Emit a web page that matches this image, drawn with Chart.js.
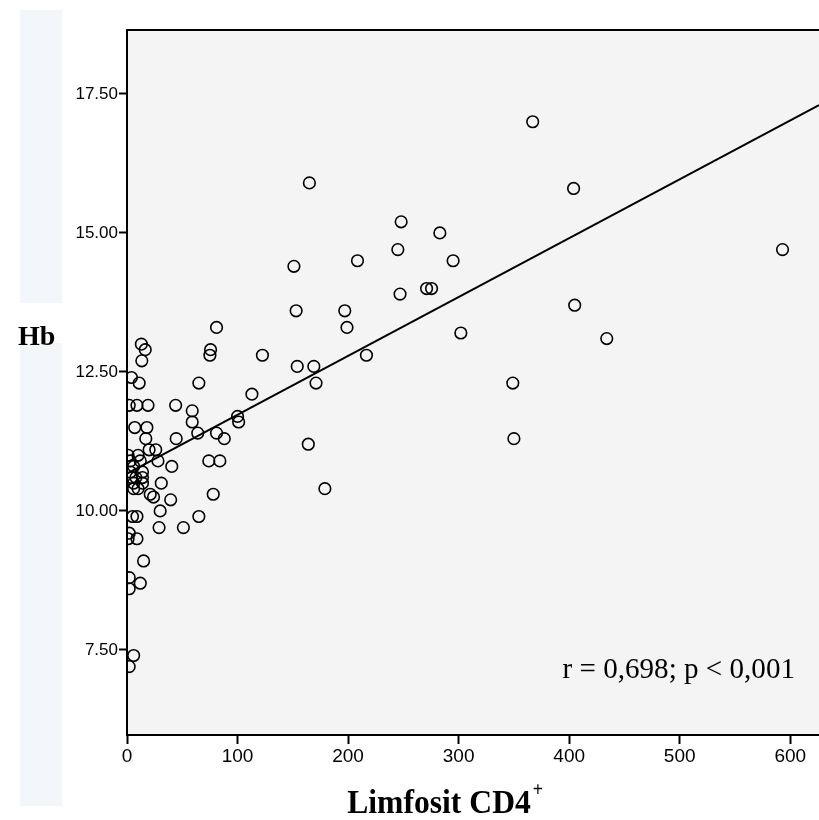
<!DOCTYPE html>
<html>
<head>
<meta charset="utf-8">
<script src="https://cdn.jsdelivr.net/npm/chart.js@4.4.1/dist/chart.umd.min.js"></script>
<style>
  html, body { margin: 0; padding: 0; background: #fff; }
  #wrap { width: 819px; height: 820px; }
</style>
</head>
<body>
<div id="wrap"><canvas id="grafico1" width="819" height="820"></canvas></div>
<script>
// Limfosit CD4+ (x) dan Hb (y)
const cd4 = [
  367, 165, 404, 248, 283, 245, 593, 151, 208.5, 295,
  247, 271, 275.5, 405, 153, 197, 199, 81, 302, 434,
  122.5, 216.6, 154, 169, 171, 349, 350, 164, 179, 75.6,
  75, 65, 113, 59, 59, 100, 101, 64, 81, 88,
  74, 84, 78, 65, 44, 44.5,
  13, 16.5, 13.4, 4, 11, 2, 9, 19, 7, 18,
  17, 20, 26, 28, 40.5,
  1, 10, 3, 12, 6, 14, 3, 8, 14, 4, 6, 14, 10, 6,
  31, 21, 24, 39.5, 30, 5, 9, 29, 51, 2,
  9, 1, 15, 2, 2, 12, 6, 2
];
const hb = [
  17.0, 15.9, 15.8, 15.2, 15.0, 14.7, 14.7, 14.4, 14.5, 14.5,
  13.9, 14.0, 14.0, 13.7, 13.6, 13.6, 13.3, 13.3, 13.2, 13.1,
  12.8, 12.8, 12.6, 12.6, 12.3, 12.3, 11.3, 11.2, 10.4, 12.9,
  12.8, 12.3, 12.1, 11.8, 11.6, 11.7, 11.6, 11.4, 11.4, 11.3,
  10.9, 10.9, 10.3, 9.9, 11.9, 11.3,
  13.0, 12.9, 12.7, 12.4, 12.3, 11.9, 11.9, 11.9, 11.5, 11.5,
  11.3, 11.1, 11.1, 10.9, 10.8,
  11.0, 11.0, 10.9, 10.9, 10.8, 10.7, 10.7, 10.6, 10.6, 10.6, 10.5, 10.5, 10.4, 10.4,
  10.5, 10.3, 10.25, 10.2, 10.0, 9.9, 9.9, 9.7, 9.7, 9.6,
  9.5, 9.5, 9.1, 8.8, 8.6, 8.7, 7.4, 7.2
];

// garis regresi (ujung kiri dan kanan)
const fitX = [0, 626];
const fitY = [10.67, 17.30];

const xTicks = [0, 100, 200, 300, 400, 500, 600];
const yTicks = [7.5, 10, 12.5, 15, 17.5];

const xTitle = 'Limfosit CD4';
const xTitleSup = '+';
const yTitle = 'Hb';
const statText = 'r = 0,698; p < 0,001';

// helper: teks dengan skala horizontal (huruf agak sempit seperti SPSS)
function drawText(ctx, text, x, y, font, sx, align) {
  ctx.save();
  ctx.font = font;
  ctx.fillStyle = '#000';
  ctx.textBaseline = 'alphabetic';
  const w = ctx.measureText(text).width * sx;
  let left = x;
  if (align === 'center') left = x - w / 2;
  if (align === 'right') left = x - w;
  ctx.translate(left, y);
  ctx.scale(sx, 1);
  ctx.textAlign = 'left';
  ctx.fillText(text, 0, 0);
  ctx.restore();
  return left + w;
}

const decorPlugin = {
  id: 'decor',
  beforeDraw(chart) {
    const { ctx, chartArea: a } = chart;
    ctx.save();
    // strip biru muda di kiri
    ctx.fillStyle = '#f3f7fc';
    ctx.fillRect(20, 10, 42, 293);
    ctx.fillRect(20, 343, 42, 463);
    // latar area plot
    ctx.fillStyle = '#f4f4f4';
    ctx.fillRect(a.left, a.top, a.right - a.left, a.bottom - a.top);
    ctx.restore();
  },
  afterDraw(chart) {
    const { ctx, chartArea: a } = chart;
    ctx.save();
    // garis bingkai atas
    ctx.strokeStyle = '#000';
    ctx.lineWidth = 2;
    ctx.beginPath();
    ctx.moveTo(a.left, a.top);
    ctx.lineTo(a.right, a.top);
    ctx.stroke();
    ctx.restore();

    drawText(ctx, yTitle, 18, 345, 'bold 28px "Liberation Serif", "Times New Roman", serif', 1, 'left');
    const end = drawText(ctx, xTitle, 439, 813, 'bold 34px "Liberation Serif", "Times New Roman", serif', 0.93, 'center');
    drawText(ctx, xTitleSup, end + 2, 796, 'bold 20px "Liberation Serif", "Times New Roman", serif', 0.9, 'left');
    drawText(ctx, statText, 795, 678, '30px "Liberation Serif", "Times New Roman", serif', 0.97, 'right');
  }
};

const ctx = document.getElementById('grafico1').getContext('2d');

const chart = new Chart(ctx, {
  type: 'scatter',
  data: {
    datasets: [
      {
        label: 'Hb',
        data: cd4.map((v, i) => ({ x: v, y: hb[i] })),
        pointRadius: 5.8,
        pointHoverRadius: 5.8,
        pointBorderWidth: 1.6,
        pointBorderColor: '#000',
        pointBackgroundColor: 'rgba(0,0,0,0)',
        showLine: false
      },
      {
        type: 'line',
        label: 'Fit',
        data: fitX.map((v, i) => ({ x: v, y: fitY[i] })),
        borderColor: '#000',
        borderWidth: 2,
        pointRadius: 0,
        fill: false,
        tension: 0
      }
    ]
  },
  options: {
    responsive: false,
    animation: false,
    events: [],
    layout: { autoPadding: false, padding: { top: 30, left: 0, right: 0, bottom: 0 } },
    plugins: {
      legend: { display: false },
      tooltip: { enabled: false }
    },
    scales: {
      x: {
        type: 'linear',
        min: 0,
        max: 626,
        afterBuildTicks: s => { s.ticks = xTicks.map(v => ({ value: v })); },
        afterFit: s => { s.height = 85; s.paddingRight = 0; s.paddingLeft = 0; },
        ticks: {
          color: '#000',
          font: { family: '"Liberation Sans Narrow", "Liberation Sans", Arial, sans-serif', size: 19 },
          padding: 1,
          maxRotation: 0,
          autoSkip: false
        },
        grid: { drawOnChartArea: false, tickLength: 9, tickColor: '#000', tickWidth: 2 },
        border: { color: '#000', width: 2 }
      },
      y: {
        type: 'linear',
        min: 5.97,
        max: 18.65,
        afterBuildTicks: s => { s.ticks = yTicks.map(v => ({ value: v })); },
        afterFit: s => { s.width = 127; },
        ticks: {
          color: '#000',
          font: { family: '"Liberation Sans", Arial, sans-serif', size: 17 },
          padding: 1,
          callback: v => v.toFixed(2)
        },
        grid: { drawOnChartArea: false, tickLength: 8, tickColor: '#000', tickWidth: 2 },
        border: { color: '#000', width: 2 }
      }
    }
  },
  plugins: [decorPlugin]
});
</script>
</body>
</html>
